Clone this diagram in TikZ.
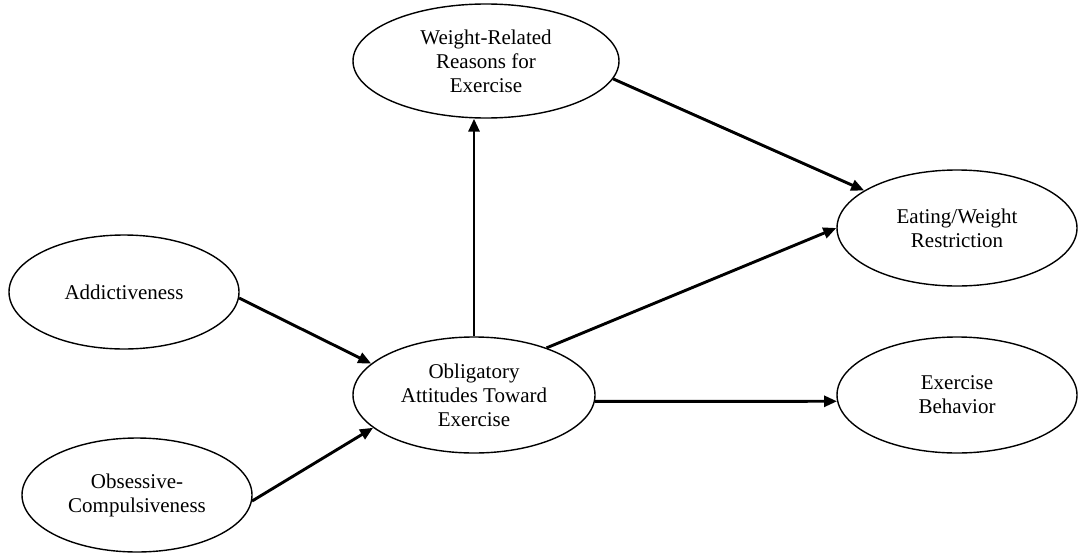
\documentclass[tikz,border=0pt]{standalone}
\usepackage{fontspec}
\setmainfont{Liberation Serif}
\usetikzlibrary{shapes.geometric,arrows.meta}
\begin{document}
\begin{tikzpicture}[x=1pt,y=-1pt,
  latent/.style={ellipse, draw, line width=1.4pt, inner sep=0pt, align=center,
    font=\fontsize{21}{24}\selectfont},
  path/.style={line width=2.9pt, -{Triangle[length=13pt,width=11pt]}}]
\useasboundingbox (0,0) rectangle (1078,554);
\node[latent, minimum width=266pt, minimum height=114pt] (WR) at (486,61) {Weight-Related\\Reasons for\\Exercise};
\node[latent, minimum width=240pt, minimum height=116pt] (EWR) at (957,228) {Eating/Weight\\Restriction};
\node[latent, minimum width=230pt, minimum height=114pt] (ADD) at (124,292) {Addictiveness};
\node[latent, minimum width=242pt, minimum height=116pt] (OATE) at (474,395) {Obligatory\\Attitudes Toward\\Exercise};
\node[latent, minimum width=240pt, minimum height=116pt] (EB) at (957,395) {Exercise\\Behavior};
\node[latent, minimum width=230pt, minimum height=114pt] (OC) at (137,495) {Obsessive-\\Compulsiveness};
\draw[path] (OATE.north) -- (OATE.north |- WR.south);
\draw[path] (WR.-8) -- (EWR.158);
\draw[path] (OATE.33) -- (EWR.west);
\draw[path] (ADD.-3) -- (OATE.163);
\draw[path] (OC.-3) -- (OATE.198);
\draw[path] (OATE.-3) -- (EB.183);
\end{tikzpicture}
\end{document}
